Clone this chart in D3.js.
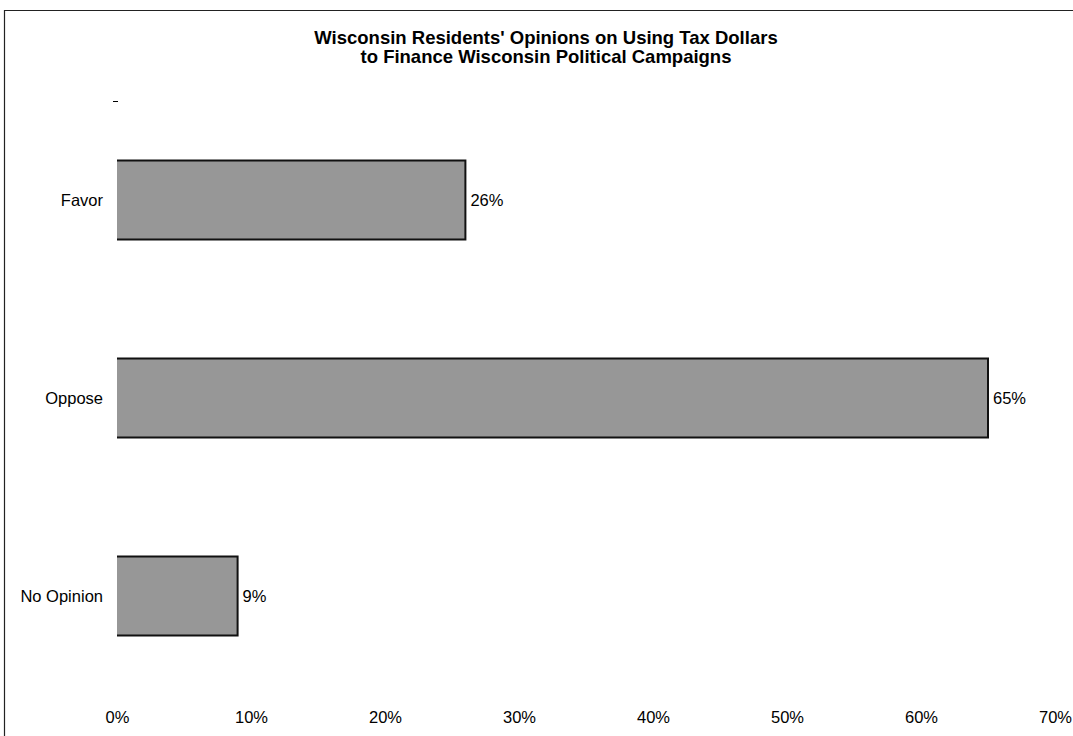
<!DOCTYPE html>
<html>
<head>
<meta charset="utf-8">
<script src="https://cdn.jsdelivr.net/npm/d3@7"></script>
<style>
  body { margin: 0; background: #fff; }
  text { font-family: "Liberation Sans", Arial, Helvetica, sans-serif; }
</style>
</head>
<body>
<div id="my-chart"></div>
<script>

// data
var categories = ['Favor', 'Oppose', 'No Opinion'];
var values = [26, 65, 9];
var tickValues = [0, 10, 20, 30, 40, 50, 60, 70];
var titleLines = ["Wisconsin Residents' Opinions on Using Tax Dollars",
                  "to Finance Wisconsin Political Campaigns"];

var W = 1073, H = 736;

var svg = d3.select('#my-chart')
    .append('svg')
    .attr('width', W)
    .attr('height', H);

// outer frame (right and bottom edges sit outside the picture)
svg.append('path')
    .attr('d', 'M4.5,' + H + 'V10.5H' + W)
    .attr('fill', 'none')
    .attr('stroke', '#222')
    .attr('stroke-width', 1.2);

// title, two separate lines
svg.append('g').selectAll('text')
    .data(titleLines)
    .enter().append('text')
    .attr('x', 546)
    .attr('y', function (d, i) { return 44 + i * 19; })
    .attr('text-anchor', 'middle')
    .style('font-size', '18.5px')
    .style('font-weight', 'bold')
    .text(function (d) { return d; });

var x = d3.scaleLinear()
    .domain([0, 70])
    .range([117, 1055]);

var y = d3.scaleBand()
    .domain(categories)
    .range([101, 695])
    .paddingInner(0.6)
    .paddingOuter(0.3);

// small tick left at the top of the category axis
svg.append('line')
    .attr('x1', 113).attr('x2', 118)
    .attr('y1', 101.5).attr('y2', 101.5)
    .attr('stroke', '#000')
    .attr('stroke-width', 1);

// bars
var bars = svg.append('g');
bars.selectAll('rect')
    .data(values)
    .enter().append('rect')
    .attr('x', x(0))
    .attr('y', function (d, i) { return y(categories[i]); })
    .attr('width', function (d) { return x(d) - x(0); })
    .attr('height', y.bandwidth())
    .attr('fill', '#979797');

// dark edge on top, right and bottom of each bar
bars.selectAll('path')
    .data(values)
    .enter().append('path')
    .attr('d', function (d, i) {
        var y0 = y(categories[i]), y1 = y0 + y.bandwidth();
        return 'M' + x(0) + ',' + y0 + 'H' + x(d) + 'V' + y1 + 'H' + x(0);
    })
    .attr('fill', 'none')
    .attr('stroke', '#111')
    .attr('stroke-width', 2);

// value labels
svg.append('g').selectAll('text')
    .data(values)
    .enter().append('text')
    .attr('x', function (d) { return x(d) + 5; })
    .attr('y', function (d, i) { return y(categories[i]) + y.bandwidth() / 2 + 6; })
    .style('font-size', '16.5px')
    .text(function (d) { return d + '%'; });

// category labels
svg.append('g').selectAll('text')
    .data(categories)
    .enter().append('text')
    .attr('x', 103)
    .attr('y', function (d) { return y(d) + y.bandwidth() / 2 + 6; })
    .attr('text-anchor', 'end')
    .style('font-size', '16.5px')
    .text(function (d) { return d; });

// x axis: line and ticks are nearly white in the original, only labels show
var xAxis = svg.append('g')
    .attr('transform', 'translate(0,695)')
    .call(d3.axisBottom(x)
        .tickValues(tickValues)
        .tickSize(0)
        .tickPadding(0)
        .tickFormat(function (d) { return d + '%'; }));
xAxis.select('.domain').remove();
xAxis.selectAll('text')
    .attr('y', 22)
    .attr('dy', '0.35em')
    .style('font-size', '16.5px')
    .style('font-family', '"Liberation Sans", Arial, sans-serif')
    .attr('fill', '#000');

</script>
</body>
</html>
